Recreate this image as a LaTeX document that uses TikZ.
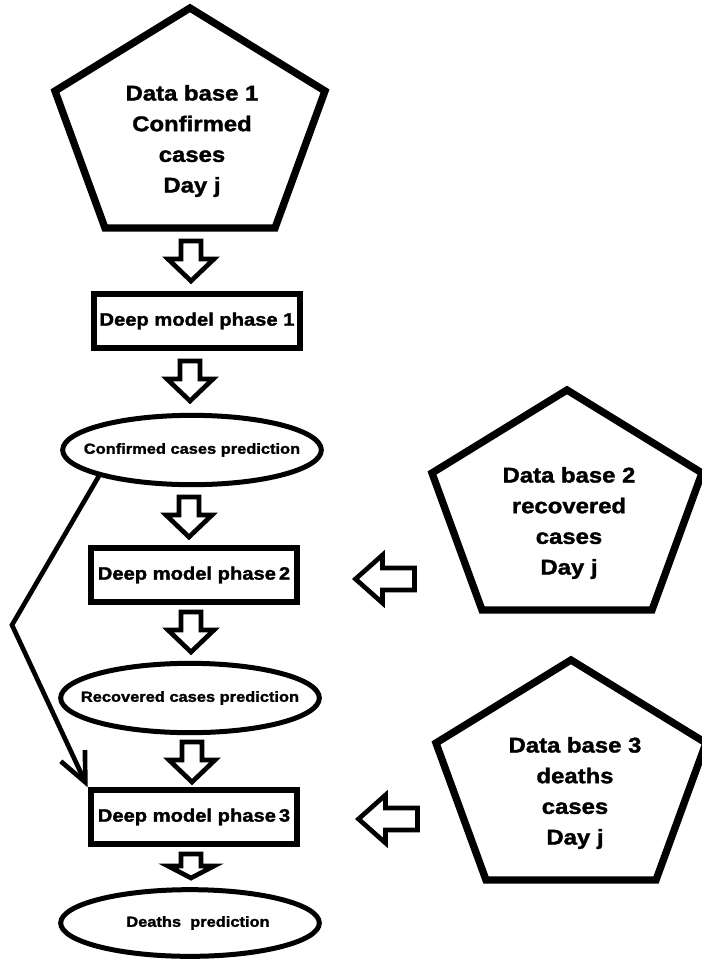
\documentclass[tikz,border=0pt]{standalone}
\usepackage{fontspec}
\newfontfamily\diagfont[FakeStretch=1.12, BoldFeatures={FakeBold=1.6}]{Liberation Sans}
\usetikzlibrary{shapes.geometric, arrows.meta, positioning}

\begin{document}
\begin{tikzpicture}[x=0.75pt, y=-0.75pt,
  database/.style={align=center, font=\diagfont\bfseries\fontsize{16}{23}\selectfont},
  dbframe/.style={line width=5.5pt, line join=miter},
  phase/.style={draw, line width=4.5pt, minimum width=155pt, minimum height=40pt, inner sep=0pt, font=\diagfont\bfseries\fontsize{13.5}{16}\selectfont},
  predict/.style={draw, ellipse, line width=3.75pt, inner xsep=-20pt, minimum width=194pt, minimum height=52pt, font=\diagfont\bfseries\fontsize{11}{13}\selectfont},
  blockline/.style={line width=3.5pt, line join=miter, fill=white},
  link/.style={line width=3.5pt, -{Straight Barb[length=22pt, width=20pt]}},
  pics/blockdown/.style 2 args={code={
    \draw[blockline] (-10,-#1/2) -- (10,-#1/2) -- (10,#1/2-#2) -- (23,#1/2-#2) -- (0,#1/2) -- (-23,#1/2-#2) -- (-10,#1/2-#2) -- cycle;}},
  pics/blockleft/.style 2 args={code={
    \draw[blockline] (#1/2,-11) -- (-#1/2+#2,-11) -- (-#1/2+#2,-24) -- (-#1/2,0) -- (-#1/2+#2,24) -- (-#1/2+#2,11) -- (#1/2,11) -- cycle;}}
]
\useasboundingbox (0,0) rectangle (702,961);

\node[database] (db1) at (192,141) {Data base 1\\Confirmed\\cases\\Day j};
\node[database] (db2) at (569,523) {Data base 2\\recovered\\cases\\Day j};
\node[database] (db3) at (575,793) {Data base 3\\deaths\\cases\\Day j};

\draw[dbframe] (db1.center) ++(-2,-133) -- ++(135,83) -- ++(-50,137) -- ++(-170,0) -- ++(-50,-137) -- cycle;
\draw[dbframe] (db2.center) ++(-2,-133) -- ++(135,83) -- ++(-50,137) -- ++(-170,0) -- ++(-50,-137) -- cycle;
\draw[dbframe] (db3.center) ++(-4,-133) -- ++(135,83) -- ++(-50,137) -- ++(-170,0) -- ++(-50,-137) -- cycle;

\node[phase] (dm1) at (197,321) {Deep model phase 1};
\node[predict] (cc) at (192,450) {Confirmed cases prediction};
\node[phase] (dm2) at (194,575) {Deep model phase\,2};
\node[predict] (rc) at (190,698) {Recovered cases prediction};
\node[phase] (dm3) at (194,817) {Deep model phase\,3};
\node[predict, minimum height=50pt] (dp) at (190,923) {\hspace{12pt}Deaths~ prediction};

\pic at (191,261) {blockdown={40}{22}};
\pic at (190,381) {blockdown={40}{22}};
\pic at (189,517) {blockdown={40}{22}};
\pic at (191,632) {blockdown={40}{22}};
\pic at (192,762) {blockdown={40}{22}};
\pic at (191,866) {blockdown={24}{12}};

\pic at (385,579) {blockleft={59}{27}};
\pic at (388,819) {blockleft={59}{27}};

\coordinate (elbow) at (12,625);
\draw[link] (cc.south west) -- (elbow) -- (dm3.north west);
\end{tikzpicture}
\end{document}
